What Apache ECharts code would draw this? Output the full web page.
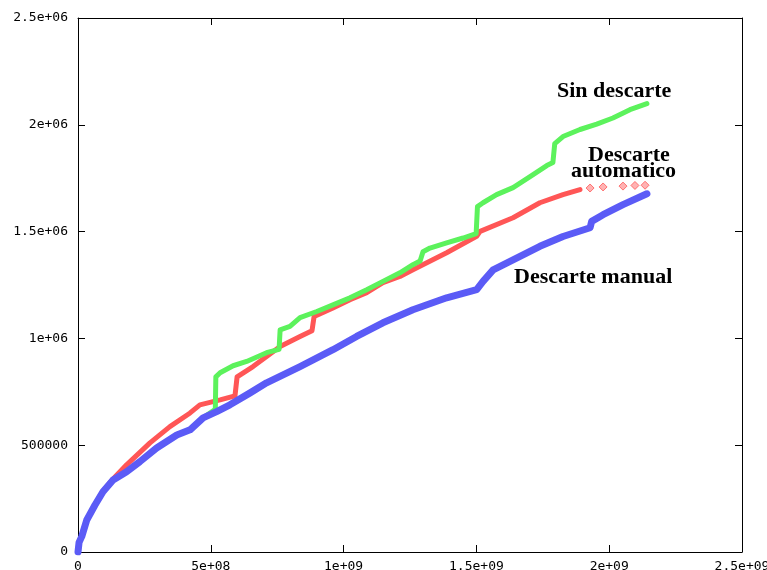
<!DOCTYPE html>
<html>
<head>
<meta charset="utf-8">
<script src="https://cdn.jsdelivr.net/npm/echarts@6/dist/echarts.min.js"></script>
<style>
  html, body { margin: 0; padding: 0; background: #fff; overflow: hidden; }
  #chart { width: 767px; height: 570px; }
</style>
</head>
<body>
<div id="chart"></div>
<script>
// Tick labels, gnuplot style
const xTickLabels = ['0', '5e+08', '1e+09', '1.5e+09', '2e+09', '2.5e+09'];
const yTickLabels = ['0', '500000', '1e+06', '1.5e+06', '2e+06', '2.5e+06'];

// Curve labels drawn next to each series
const seriesNames = ['Descarte automatico', 'Sin descarte', 'Descarte manual'];

// Descarte automatico
const autoData = [
  [0, 0], [0.004e9, 0.050e6], [0.014e9, 0.075e6], [0.033e9, 0.152e6], [0.064e9, 0.222e6],
  [0.094e9, 0.285e6], [0.132e9, 0.342e6], [0.183e9, 0.408e6], [0.271e9, 0.511e6],
  [0.346e9, 0.587e6], [0.422e9, 0.651e6], [0.459e9, 0.689e6], [0.535e9, 0.712e6],
  [0.591e9, 0.731e6], [0.599e9, 0.820e6], [0.659e9, 0.868e6], [0.710e9, 0.915e6],
  [0.761e9, 0.962e6], [0.836e9, 1.009e6], [0.881e9, 1.036e6], [0.889e9, 1.103e6],
  [0.960e9, 1.143e6], [1.024e9, 1.181e6], [1.087e9, 1.214e6], [1.148e9, 1.261e6],
  [1.212e9, 1.290e6], [1.261e9, 1.321e6], [1.388e9, 1.401e6], [1.501e9, 1.478e6],
  [1.514e9, 1.501e6], [1.638e9, 1.565e6], [1.739e9, 1.635e6], [1.826e9, 1.673e6],
  [1.890e9, 1.697e6]
];
// Descarte automatico, sparse last samples
const autoTail = [
  [1.928e9, 1.704e6], [1.977e9, 1.709e6], [2.052e9, 1.713e6], [2.097e9, 1.716e6], [2.135e9, 1.717e6]
];

// Sin descarte
const sinData = [
  [0, 0], [0.004e9, 0.045e6], [0.014e9, 0.072e6], [0.033e9, 0.150e6], [0.064e9, 0.220e6],
  [0.094e9, 0.282e6], [0.132e9, 0.337e6], [0.183e9, 0.376e6], [0.233e9, 0.423e6],
  [0.296e9, 0.487e6], [0.372e9, 0.548e6], [0.422e9, 0.572e6], [0.471e9, 0.628e6],
  [0.517e9, 0.668e6], [0.519e9, 0.820e6], [0.535e9, 0.839e6], [0.584e9, 0.872e6],
  [0.635e9, 0.892e6], [0.710e9, 0.933e6], [0.757e9, 0.949e6], [0.761e9, 1.040e6],
  [0.798e9, 1.056e6], [0.836e9, 1.097e6], [0.899e9, 1.126e6], [0.960e9, 1.157e6],
  [1.024e9, 1.190e6], [1.087e9, 1.228e6], [1.148e9, 1.267e6], [1.212e9, 1.307e6],
  [1.261e9, 1.345e6], [1.288e9, 1.362e6], [1.299e9, 1.406e6], [1.325e9, 1.423e6],
  [1.388e9, 1.447e6], [1.450e9, 1.470e6], [1.499e9, 1.490e6], [1.504e9, 1.617e6],
  [1.525e9, 1.635e6], [1.576e9, 1.673e6], [1.638e9, 1.706e6], [1.702e9, 1.757e6],
  [1.765e9, 1.809e6], [1.788e9, 1.823e6], [1.795e9, 1.912e6], [1.826e9, 1.945e6],
  [1.890e9, 1.978e6], [1.953e9, 2.003e6], [2.014e9, 2.032e6], [2.078e9, 2.071e6],
  [2.142e9, 2.099e6]
];

// Descarte manual
const manualData = [
  [0, 0], [0.004e9, 0.045e6], [0.014e9, 0.072e6], [0.033e9, 0.150e6], [0.064e9, 0.220e6],
  [0.094e9, 0.282e6], [0.132e9, 0.337e6], [0.183e9, 0.376e6], [0.233e9, 0.423e6],
  [0.296e9, 0.487e6], [0.372e9, 0.548e6], [0.422e9, 0.572e6], [0.471e9, 0.628e6],
  [0.522e9, 0.657e6], [0.572e9, 0.689e6], [0.648e9, 0.745e6], [0.710e9, 0.792e6],
  [0.836e9, 0.868e6], [0.960e9, 0.947e6], [1.049e9, 1.009e6], [1.148e9, 1.073e6],
  [1.261e9, 1.134e6], [1.388e9, 1.190e6], [1.501e9, 1.228e6], [1.525e9, 1.267e6],
  [1.563e9, 1.321e6], [1.638e9, 1.368e6], [1.739e9, 1.431e6], [1.826e9, 1.477e6],
  [1.928e9, 1.518e6], [1.934e9, 1.548e6], [1.977e9, 1.579e6], [2.052e9, 1.626e6],
  [2.142e9, 1.677e6]
];

const RED = '#ff5656';
const GREEN = '#5cf25c';
const BLUE = '#5b5bf6';

const tickFont = { fontFamily: '"DejaVu Sans Mono", monospace', fontSize: 13, color: '#000' };
const labelFont = 'bold 22px "Liberation Serif", "Times New Roman", serif';

const xStep = 5e8, yStep = 5e5;

function bandLine(name, data, color, width) {
  return {
    name, type: 'line', data,
    showSymbol: false, symbol: 'none',
    xAxisIndex: 0, yAxisIndex: 0,
    lineStyle: { color, width, cap: 'round', join: 'round' },
    itemStyle: { color },
    animation: false
  };
}

const chart = echarts.init(document.getElementById('chart'), null, { renderer: 'canvas' });

const axisCommon = {
  type: 'value',
  splitLine: { show: false },
  axisLine: { show: true, onZero: false, lineStyle: { color: '#000', width: 1 } },
  axisTick: { show: true, inside: true, length: 7, lineStyle: { color: '#000', width: 1 } }
};

chart.setOption({
  backgroundColor: '#fff',
  animation: false,
  // fixed plot box; the last x label is allowed to run off the right edge
  grid: { left: 78, right: 25, top: 18, bottom: 18, containLabel: false, outerBoundsMode: 'none' },
  xAxis: [
    Object.assign({}, axisCommon, {
      position: 'bottom', min: 0, max: 2.5e9, interval: xStep,
      axisLabel: Object.assign({ margin: 8, formatter: v => xTickLabels[Math.round(v / xStep)] }, tickFont)
    }),
    Object.assign({}, axisCommon, {
      position: 'top', min: 0, max: 2.5e9, interval: xStep,
      axisLabel: { show: false }
    })
  ],
  yAxis: [
    Object.assign({}, axisCommon, {
      position: 'left', min: 0, max: 2.5e6, interval: yStep,
      axisLabel: Object.assign({ margin: 10, formatter: v => yTickLabels[Math.round(v / yStep)] }, tickFont)
    }),
    Object.assign({}, axisCommon, {
      position: 'right', min: 0, max: 2.5e6, interval: yStep,
      axisLabel: { show: false }
    })
  ],
  series: [
    bandLine(seriesNames[0], autoData, RED, 5),
    {
      name: seriesNames[0] + ' (final)', type: 'scatter', data: autoTail,
      xAxisIndex: 0, yAxisIndex: 0,
      symbol: 'diamond', symbolSize: 8,
      itemStyle: { color: '#ffa0a0', borderColor: RED, borderWidth: 1 },
      animation: false
    },
    bandLine(seriesNames[1], sinData, GREEN, 5),
    bandLine(seriesNames[2], manualData, BLUE, 7)
  ],
  graphic: [
    { type: 'text', left: 557, top: 80, style: { text: seriesNames[1], font: labelFont, fill: '#000' } },
    { type: 'text', left: 588, top: 144, style: { text: 'Descarte', font: labelFont, fill: '#000' } },
    { type: 'text', left: 571, top: 160, style: { text: 'automatico', font: labelFont, fill: '#000' } },
    { type: 'text', left: 514, top: 266, style: { text: seriesNames[2], font: labelFont, fill: '#000' } }
  ]
});
</script>
</body>
</html>
